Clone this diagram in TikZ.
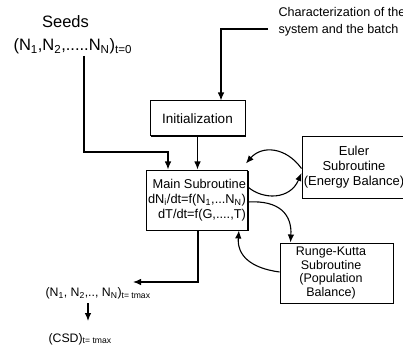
\documentclass[tikz,border=0pt]{standalone}
\usepackage{fontspec}
\setmainfont{Liberation Sans}
\usetikzlibrary{arrows.meta,shadows}
\begin{document}
\begin{tikzpicture}[x=1pt,y=-1pt,
  line width=1.1pt,
  arr/.style={-{Latex[length=8pt,width=6.5pt]}},
  box/.style={draw,fill=white,line width=1pt,inner sep=0pt,align=center,
    drop shadow={shadow xshift=1.1pt,shadow yshift=-1.1pt,fill=black,opacity=1}},
  lbl/.style={inner sep=0pt,align=left}
]
\useasboundingbox (0,0) rectangle (403,347);

% inputs
\node[lbl,anchor=base,font=\fontsize{16.5}{18}\selectfont] (seeds) at (65.5,27.5) {Seeds};
\node[lbl,anchor=base west,font=\fontsize{16.5}{18}\selectfont] (seedvec) at (13,51)
  {(N\textsubscript{1},N\textsubscript{2},.....N\textsubscript{N})\textsubscript{t=0}};
\node[lbl,anchor=base west,font=\fontsize{12.6}{17}\selectfont] (charac) at (278,33.5)
  {Characterization of the\\ system and the batch};

% boxes
\node[box,minimum width=95,minimum height=35,font=\fontsize{13.5}{16}\selectfont] (init) at (197.5,118.5) {Initialization};
\node[box,align=right,inner xsep=1.5pt,minimum width=100,minimum height=60,font=\fontsize{12.8}{15}\selectfont] (main) at (197,200)
  {Main Subroutine\\ dN\textsubscript{i}/dt=f(N\textsubscript{1},...N\textsubscript{N})\\ dT/dt=f(G,....,T)};
\node[box,minimum width=104,minimum height=61,font=\fontsize{13}{15}\selectfont] (euler) at (354,167.5)
  {Euler\\ Subroutine\\ (Energy Balance)};
\node[box,minimum width=113,minimum height=60] (rk) at (336.5,273) {};
\node[lbl,align=center,font=\fontsize{12.5}{13.8}\selectfont] (rktext) at (331,273)
  {Runge-Kutta\\ Subroutine\\ (Population\\ Balance)};

% outputs
\node[lbl,anchor=base west,font=\fontsize{12.3}{14}\selectfont] (result) at (45,296.5)
  {(N\textsubscript{1}, N\textsubscript{2},.., N\textsubscript{N})\textsubscript{t= tmax}};
\node[lbl,anchor=base west,font=\fontsize{12.3}{14}\selectfont] (csd) at (48,342)
  {(CSD)\textsubscript{t= tmax}};

% straight connectors
\coordinate (s0) at (84,56);
\coordinate (s1) at (168,152);
\draw[arr] (s0) |- (s1) -- (s1 |- main.north);
\coordinate (c0) at (268,29);
\coordinate (c1) at (221,29);
\draw[arr] (c0) -- (c1) -- (c1 |- init.north);
\draw[arr] (init.south) -- (main.north -| init.south);
\coordinate (m1) at (198,282);
\coordinate (r1) at (133,282);
\draw[arr] (main.south -| m1) -- (m1) -- (r1);
\coordinate (d0) at (88,303);
\coordinate (d1) at (88,321);
\draw[arr] (d0) -- (d1);

% curved connectors
\draw[arr] ([yshift=-1pt]euler.west) .. controls (286,147) and (262,145) .. ([shift={(-2pt,6pt)}]main.north east);
\draw[arr] ([yshift=13pt]main.east) .. controls (263,200) and (290,200) .. ([yshift=-5.5pt]euler.west);
\draw[arr] ([yshift=-2pt]main.east) .. controls (280,200) and (292,215) .. ([xshift=11pt]rk.north west);
\draw[arr] ([yshift=1pt]rk.west) .. controls (250,268) and (237,255) .. ([xshift=-9pt]main.south east);
\end{tikzpicture}
\end{document}
